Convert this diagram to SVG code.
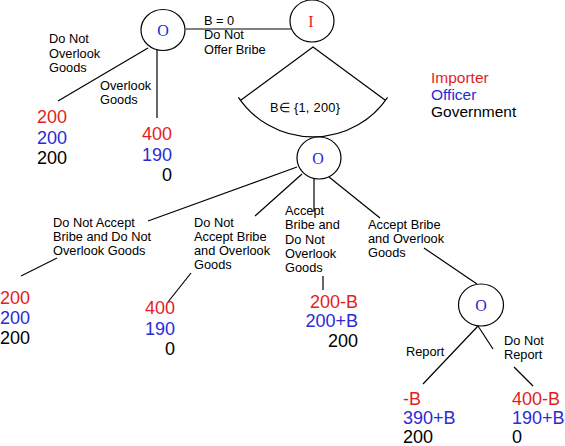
<svg xmlns="http://www.w3.org/2000/svg" width="565" height="446" viewBox="0 0 565 446">
<style>
.e{stroke:#000;stroke-width:1.2;fill:none}
.n{fill:#fff;stroke:#000;stroke-width:1.2}
.nl{font-family:"Liberation Serif","Times New Roman",serif;font-size:16px;text-anchor:middle}
.l{font-family:"Liberation Sans",Arial,sans-serif;font-size:12.8px;fill:#000}
.p{font-family:"Liberation Sans",Arial,sans-serif;font-size:18px}
.r{fill:#e31e24}
.b{fill:#2a2ad8}
.k{fill:#000}
.end{text-anchor:end}
.lg{font-family:"Liberation Sans",Arial,sans-serif;font-size:15.5px}
</style>
<rect width="565" height="446" fill="#fff"/>
<g id="connectors">
<line class="e" x1="186" y1="29" x2="291" y2="29"/>
<line class="e" x1="148" y1="48" x2="58" y2="101"/>
<line class="e" x1="157" y1="50" x2="157" y2="118"/>
<path class="e" d="M241 100 L313 47 L385 100 M238.4 97.3 A90 90 0 0 0 387.6 97.3"/>
<line class="e" x1="297" y1="167" x2="148" y2="221"/>
<line class="e" x1="57" y1="258" x2="21" y2="276"/>
<line class="e" x1="302" y1="174" x2="255" y2="216"/>
<line class="e" x1="191" y1="273" x2="168" y2="302"/>
<line class="e" x1="314" y1="179" x2="314" y2="212"/>
<line class="e" x1="323" y1="276" x2="323" y2="290"/>
<line class="e" x1="329" y1="177" x2="380" y2="218"/>
<line class="e" x1="424" y1="248" x2="477" y2="284"/>
<line class="e" x1="478" y1="326" x2="423" y2="384"/>
<line class="e" x1="478" y1="326" x2="493" y2="349"/>
<line class="e" x1="514" y1="367" x2="533" y2="386"/>
</g>
<g id="node-O1">
<ellipse class="n" cx="163" cy="30" rx="22" ry="20.5"/>
<text class="nl b" x="163" y="35.5">O</text>
</g>
<g id="node-I">
<ellipse class="n" cx="312" cy="21" rx="22" ry="21"/>
<text class="nl r" x="311" y="27">I</text>
</g>
<g id="node-O2">
<ellipse class="n" cx="319" cy="158" rx="22" ry="21"/>
<text class="nl b" x="318" y="164">O</text>
</g>
<g id="node-O3">
<ellipse class="n" cx="481" cy="305" rx="22.5" ry="21"/>
<text class="nl b" x="481" y="311">O</text>
</g>
<g id="labels">
<text class="l" x="204" y="25">B = 0</text>
<text class="l" x="204" y="39">Do Not</text>
<text class="l" x="204" y="54">Offer Bribe</text>
<text class="l" x="49" y="43">Do Not</text>
<text class="l" x="49" y="58">Overlook</text>
<text class="l" x="49" y="72">Goods</text>
<text class="l" x="100" y="90">Overlook</text>
<text class="l" x="100" y="104">Goods</text>
<text class="l" x="270" y="112" textLength="70" lengthAdjust="spacing">B∈ {1, 200}</text>
<text class="l" x="53" y="227">Do Not Accept</text>
<text class="l" x="53" y="241">Bribe and Do Not</text>
<text class="l" x="53" y="255">Overlook Goods</text>
<text class="l" x="194" y="227">Do Not</text>
<text class="l" x="194" y="241">Accept Bribe</text>
<text class="l" x="194" y="255">and Overlook</text>
<text class="l" x="194" y="269">Goods</text>
<text class="l" x="285" y="215">Accept</text>
<text class="l" x="285" y="229">Bribe and</text>
<text class="l" x="285" y="244">Do Not</text>
<text class="l" x="285" y="258">Overlook</text>
<text class="l" x="285" y="272">Goods</text>
<text class="l" x="368" y="229">Accept Bribe</text>
<text class="l" x="368" y="243">and Overlook</text>
<text class="l" x="368" y="257">Goods</text>
<text class="l" x="406" y="356">Report</text>
<text class="l" x="504" y="345">Do Not</text>
<text class="l" x="504" y="359">Report</text>
</g>
<g id="legend" class="lg">
<text class="r" x="431" y="83">Importer</text>
<text class="b" x="431" y="100">Officer</text>
<text class="k" x="431" y="117">Government</text>
</g>
<g id="payoffs" class="p">
<text class="r end" x="67" y="123">200</text>
<text class="b end" x="67" y="144">200</text>
<text class="k end" x="67" y="164">200</text>
<text class="r end" x="172" y="140">400</text>
<text class="b end" x="172" y="161">190</text>
<text class="k end" x="172" y="181">0</text>
<text class="r end" x="30" y="304">200</text>
<text class="b end" x="30" y="324">200</text>
<text class="k end" x="30" y="344">200</text>
<text class="r end" x="175" y="314">400</text>
<text class="b end" x="175" y="335">190</text>
<text class="k end" x="175" y="355">0</text>
<text class="r end" x="358" y="308">200-B</text>
<text class="b end" x="358" y="327">200+B</text>
<text class="k end" x="358" y="347">200</text>
<text class="r" x="403" y="405">-B</text>
<text class="b" x="403" y="424">390+B</text>
<text class="k" x="403" y="443">200</text>
<text class="r" x="512" y="405">400-B</text>
<text class="b" x="512" y="424">190+B</text>
<text class="k" x="512" y="443">0</text>
</g>
</svg>
